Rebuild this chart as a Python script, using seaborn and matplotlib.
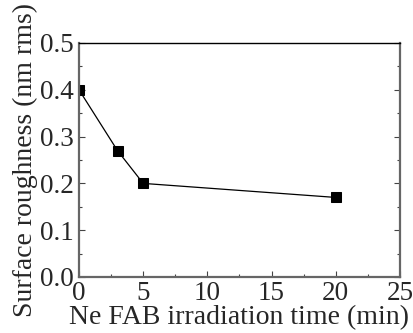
import pandas as pd
import matplotlib
matplotlib.use("Agg")
import matplotlib.pyplot as plt
import seaborn as sns
from matplotlib.ticker import MultipleLocator

sns.set_style("ticks")
plt.rcParams['font.family'] = ['Liberation Serif', 'DejaVu Serif']

# data
time_min = [0, 3, 5, 20]
roughness = [0.40, 0.27, 0.20, 0.17]
y_ticks = [0, 0.1, 0.2, 0.3, 0.4, 0.5]
y_ticklabels = ['0.0', '0.1', '0.2', '0.3', '0.4', '0.5']

df = pd.DataFrame({'time': time_min, 'rough': roughness})

fig = plt.figure(figsize=(4.14, 3.33), dpi=100)
ax = fig.add_axes([79/414, 1 - 277/333, 321/414, 234/333])

sns.lineplot(data=df, x='time', y='rough', ax=ax, color='black',
             linewidth=0.9, marker='s', markersize=6.5,
             markeredgecolor='black', markerfacecolor='black')

ax.set_xlim(0, 25)
ax.set_ylim(0, 0.5)
ax.xaxis.set_major_locator(MultipleLocator(5))
ax.xaxis.set_minor_locator(MultipleLocator(2.5))
ax.set_yticks(y_ticks)
ax.set_yticklabels(y_ticklabels)
ax.yaxis.set_minor_locator(MultipleLocator(0.05))

ax.tick_params(which='both', direction='in', right=True, top=False,
               labelsize=19.5, color='#444444')
ax.tick_params(axis='y', pad=4)
ax.tick_params(axis='x', pad=3)
ax.tick_params(which='major', length=4, width=0.8)
ax.tick_params(which='minor', length=2, width=0.8)

for side in ['left', 'right', 'bottom']:
    ax.spines[side].set_color('#666666')
    ax.spines[side].set_linewidth(1.6)
ax.spines['top'].set_color('black')
ax.spines['top'].set_linewidth(1.0)

ax.set_xlabel('Ne FAB irradiation time (min)', fontsize=20, labelpad=-1)
ax.set_ylabel('Surface roughness (nm rms)', fontsize=20, labelpad=1)

fig.savefig('out.png', dpi=100)
